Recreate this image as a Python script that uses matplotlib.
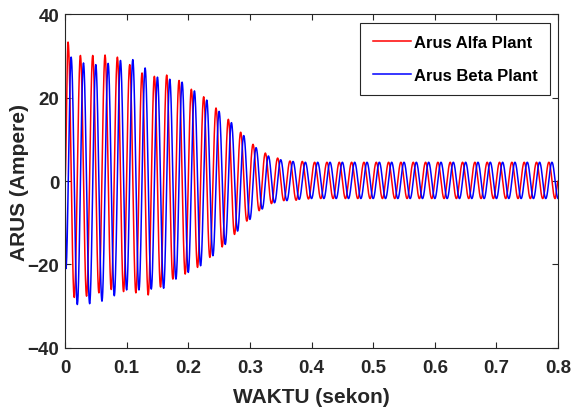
#!/usr/bin/env python3
"""arus alfa dan beta pada plant, 50 Hz"""
import numpy as np
import matplotlib.pyplot as plt

plt.rcParams['font.family'] = ['Liberation Sans', 'DejaVu Sans']
plt.rcParams['font.weight'] = 'bold'

FREQ = 50.0
N_CYCLES = 40

# puncak positif / negatif tiap siklus (Ampere)
alfa_peaks = [33.3, 30.1, 30.1, 30.2, 29.7, 27.9, 25.9, 25.1, 25.4, 24.1,
              22.0, 20.2, 17.5, 14.8, 11.7, 8.8, 6.7, 5.5, 4.8, 4.7] + [4.5] * 20
alfa_troughs = [-27.9, -27.6, -26.8, -26.0, -26.5, -26.8, -27.3, -25.4, -23.5, -22.3,
                -20.7, -18.3, -15.8, -12.8, -9.6, -7.1, -5.4, -4.7, -4.6, -4.3] + [-4.2] * 20
beta_peaks = [29.7, 28.3, 27.9, 28.2, 28.9, 29.1, 27.1, 24.9, 24.4, 23.7,
              21.6, 19.4, 16.7, 14.0, 10.9, 8.0, 6.0, 5.1, 4.7, 4.5] + [4.5] * 20
beta_troughs = [-29.6, -29.4, -28.8, -27.5, -26.1, -26.1, -25.9, -25.7, -23.5, -21.9,
                -20.3, -17.9, -15.2, -12.0, -9.2, -6.7, -5.2, -4.7, -4.4, -4.2] + [-4.2] * 20
beta_start = -21.0   # lonjakan awal arus beta

labels = ["Arus Alfa Plant", "Arus Beta Plant"]
xticks = [0, 0.1, 0.2, 0.3, 0.4, 0.5, 0.6, 0.7, 0.8]
xticklabels = ["0", "0.1", "0.2", "0.3", "0.4", "0.5", "0.6", "0.7", "0.8"]
yticks = [-40, -20, 0, 20, 40]


def wave(times, values, pts=40):
    """gelombang halus melewati titik-titik ekstrem"""
    out_t, out_v = [], []
    for i in range(len(times) - 1):
        s = np.linspace(0, 1, pts, endpoint=False)
        out_t.append(times[i] + (times[i + 1] - times[i]) * s)
        out_v.append(values[i] + (values[i + 1] - values[i]) * (1 - np.cos(np.pi * s)) / 2)
    out_t.append([times[-1]])
    out_v.append([values[-1]])
    return np.concatenate(out_t), np.concatenate(out_v)


T = 1 / FREQ
k = np.arange(N_CYCLES)

# alfa: sin, mulai dari nol
ta = [0.0]
va = [0.0]
for i in k:
    ta += [T / 4 + i * T, 3 * T / 4 + i * T]
    va += [alfa_peaks[i], alfa_troughs[i]]
ta.append(N_CYCLES * T)
va.append(0.0)

# beta: tertinggal 90 derajat
tb = [0.0, 0.0015]
vb = [0.0, beta_start]
for i in k:
    tb += [T / 2 + i * T, T + i * T]
    vb += [beta_peaks[i], beta_troughs[i]]

fig = plt.figure(figsize=(5.73, 4.10), dpi=100)
ax = fig.add_axes([0.1134, 0.149, 0.8606, 0.814])

x, y = wave(ta, va)
ax.plot(x, y, color='r', lw=1.1, label=labels[0])
x, y = wave(tb, vb)
ax.plot(x, y, color='b', lw=1.1, label=labels[1])

ax.set_xlim(0, 0.8)
ax.set_ylim(-40, 40)
ax.set_xticks(xticks)
ax.set_xticklabels(xticklabels)
ax.set_yticks(yticks)
ax.tick_params(direction='in', top=True, right=True, length=4, width=0.8,
               labelsize=13.5, colors='#262626')
ax.tick_params(axis='x', pad=8)
ax.tick_params(axis='y', pad=4)
for sp in ax.spines.values():
    sp.set_color('#262626')
    sp.set_linewidth(0.8)

ax.set_xlabel("WAKTU (sekon)", fontsize=15, fontweight='bold', color='#262626', labelpad=8)
ax.set_ylabel("ARUS (Ampere)", fontsize=15, fontweight='bold', color='#262626')
ax.yaxis.set_label_coords(-0.073, 0.5)

leg = ax.legend(loc='upper right', fontsize=12, handlelength=2.3, handletextpad=0.15,
                borderaxespad=0.5, borderpad=0.75, labelspacing=1.05,
                fancybox=False, framealpha=1, edgecolor='#262626')
leg.get_frame().set_linewidth(0.8)

fig.savefig("out.png", dpi=100)
